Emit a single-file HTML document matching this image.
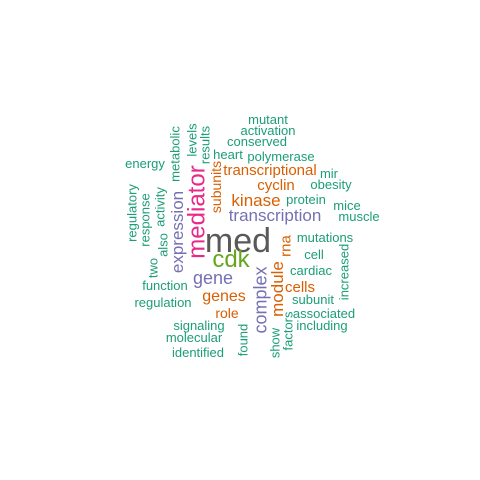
<!DOCTYPE html>
<html><head><meta charset="utf-8"><style>
html,body{margin:0;padding:0;background:#fff;}
svg{display:block;}
text{font-family:"Liberation Sans",Arial,sans-serif;}
</style></head><body>
<svg id="cloud" width="480" height="480" viewBox="0 0 480 480"></svg>
<script>
const words = ["mutant","activation","conserved","heart","polymerase","energy","transcriptional","mir","cyclin","obesity","kinase","protein","mice","muscle","transcription","med","mutations","cdk","cell","cardiac","gene","function","genes","cells","regulation","subunit","role","associated","signaling","including","molecular","identified","metabolic","levels","results","subunits","regulatory","response","activity","also","expression","mediator","rna","two","increased","complex","module","found","show","factors"];
const sizes = [13,13,13,13,13,13,15,13,15,13,17,13,13,13,17,34,13,24,13,13,18,13,16,15,13,13,14,13,13,13,13,13,13,13,13,14,13,13,13,13,17,24,15,13,13,18,17,13,13,13];
const colorGroups = [0,0,0,0,0,0,1,0,1,0,1,0,0,0,2,5,0,4,0,0,2,0,1,1,0,0,1,0,0,0,0,0,0,0,0,1,0,0,0,0,2,3,1,0,0,2,1,0,0,0];
const palette = ["#1B9E77","#D95F02","#7570B3","#E7298A","#66A61E","#595959"];
// layout: [cx, y, vertical]
const layout = [[268,124,0],[268,135,0],[257,146,0],[228,159,0],[281,161,0],[145,168,0],[270,175,0],[329,178,0],[276,190,0],[331,189,0],[256,206,0],[306,204,0],[347,210,0],[359,221,0],[275,221,0],[238,252,0],[325,242,0],[231,267,0],[314,259,0],[311,275,0],[213,284,0],[165,290,0],[224,301,0],[300,292,0],[163,307,0],[313,304,0],[227,318,0],[324,318,0],[199,330,0],[322,330,0],[194,342,0],[198,357,0],
[175,154,1],[192,140,1],[205,145,1],[216,187,1],[132,213,1],[145,220,1],[160,207,1],[163,245,1],[177,232,1],[196,212,1],[285,246,1],[153,268,1],[344,272,1],[260,300,1],[277,289,1],[243,340,1],[275,343,1],[288,331,1]];
const svg=document.getElementById('cloud');
const NS="http://www.w3.org/2000/svg";
words.forEach((w,i)=>{
  const t=document.createElementNS(NS,'text');
  const [x,y,v]=layout[i];
  t.setAttribute('text-anchor','middle');
  t.setAttribute('font-size',sizes[i]);
  t.setAttribute('fill',palette[colorGroups[i]]);
  if(v){t.setAttribute('transform',`translate(${x},${y}) rotate(-90)`);t.setAttribute('dy','0.35em');}
  else{t.setAttribute('x',x);t.setAttribute('y',y);}
  t.textContent=w;
  
  
  svg.appendChild(t);
});
</script>
</body></html>
